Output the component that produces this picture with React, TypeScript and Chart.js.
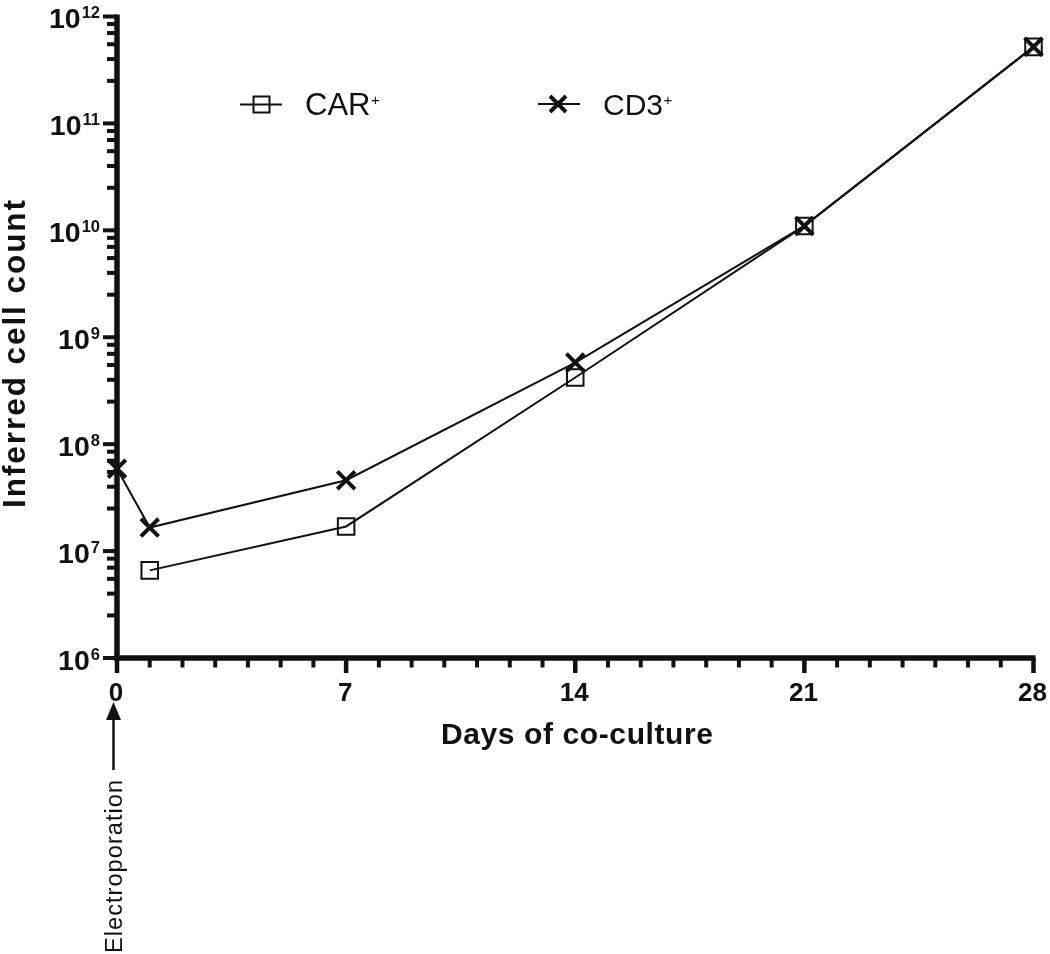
import React, { useEffect, useRef } from "react";
import { Chart, registerables } from "chart.js";

Chart.register(...registerables);

// ---- data ----
const days = [0, 1, 7, 14, 21, 28];
const carPlus: (number | null)[] = [null, 6.6e6, 1.7e7, 4.2e8, 1.1e10, 5.2e11];
const cd3Plus: (number | null)[] = [5.9e7, 1.66e7, 4.6e7, 5.8e8, 1.1e10, 5.2e11];
const seriesNames = ["CAR", "CD3"];

// ---- axis ticks ----
const xMajorTicks = [0, 7, 14, 21, 28];
const xMinorTicks = [1, 2, 3, 4, 5, 6, 8, 9, 10, 11, 12, 13, 15, 16, 17, 18, 19, 20, 22, 23, 24, 25, 26, 27];
const yExponents = [6, 7, 8, 9, 10, 11, 12];
const yMinorMultipliers = [2.5, 4, 5.5, 7, 8.5];
const xTitle = "Days of co-culture";
const yTitle = "Inferred cell count";
const annotationText = "Electroporation";

const FONT = '"Liberation Sans", Arial, Helvetica, sans-serif';
const INK = "#111111";

function toPoints(values: (number | null)[]) {
  const pts: { x: number; y: number }[] = [];
  values.forEach((v, i) => {
    if (v !== null) pts.push({ x: days[i], y: v });
  });
  return pts;
}

function fitText(ctx: CanvasRenderingContext2D, text: string, x: number, y: number, target: number) {
  (ctx as any).letterSpacing = "0px";
  const w = ctx.measureText(text).width;
  const sp = text.length > 1 ? (target - w) / (text.length - 1) : 0;
  (ctx as any).letterSpacing = sp + "px";
  ctx.textAlign = "left";
  ctx.fillText(text, x, y);
  (ctx as any).letterSpacing = "0px";
}

const axesPlugin = {
  id: "customAxes",
  beforeDatasetsDraw(chart: any) {
    const ctx: CanvasRenderingContext2D = chart.ctx;
    const xs = chart.scales.x;
    const ys = chart.scales.y;
    const x0 = xs.getPixelForValue(0);
    const xr = xs.getPixelForValue(28);
    const y0 = ys.getPixelForValue(1e6);
    const yt = ys.getPixelForValue(1e12);
    ctx.save();
    ctx.fillStyle = INK;
    // axis lines
    ctx.fillRect(x0 - 2.75, yt - 2, 5.5, y0 + 2.75 - (yt - 2));
    ctx.fillRect(x0 - 2.75, y0 - 2.75, xr + 2 - (x0 - 2.75), 5.5);
    // y ticks
    yExponents.forEach((e) => {
      const py = ys.getPixelForValue(Math.pow(10, e));
      ctx.fillRect(x0 - 14, py - 2, 14, 4);
      if (e < 12) {
        yMinorMultipliers.forEach((m) => {
          const pm = ys.getPixelForValue(m * Math.pow(10, e));
          ctx.fillRect(x0 - 10, pm - 2, 10, 4);
        });
      }
    });
    // x ticks
    xMajorTicks.forEach((d) => {
      const px = xs.getPixelForValue(d);
      ctx.fillRect(px - 2.25, y0, 4.5, 15);
    });
    xMinorTicks.forEach((d) => {
      const px = xs.getPixelForValue(d);
      ctx.fillRect(px - 2, y0, 4, 9.5);
    });

    // y tick labels 10^n
    ctx.textBaseline = "alphabetic";
    yExponents.forEach((e) => {
      const py = ys.getPixelForValue(Math.pow(10, e));
      ctx.font = `bold 16.5px ${FONT}`;
      const sup = String(e);
      const sw = ctx.measureText(sup).width;
      const right = x0 - 17;
      ctx.textAlign = "left";
      ctx.fillText(sup, right - sw, py + 1.5);
      ctx.font = `bold 28.5px ${FONT}`;
      ctx.textAlign = "right";
      ctx.fillText("10", right - sw - 1, py + 11.5);
    });

    // x tick labels
    ctx.font = `bold 26px ${FONT}`;
    ctx.textAlign = "center";
    xMajorTicks.forEach((d) => {
      const px = xs.getPixelForValue(d);
      ctx.fillText(String(d), px - 1, y0 + 43);
    });

    // axis titles
    ctx.font = `bold 30px ${FONT}`;
    fitText(ctx, xTitle, 441, 744, 272);

    ctx.save();
    ctx.translate(25, 508);
    ctx.rotate(-Math.PI / 2);
    ctx.font = `bold 31.5px ${FONT}`;
    fitText(ctx, yTitle, 0, 0, 308);
    ctx.restore();

    // electroporation arrow
    const ax = x0 - 3.5;
    ctx.strokeStyle = INK;
    ctx.lineWidth = 2.5;
    ctx.beginPath();
    ctx.moveTo(ax, 718);
    ctx.lineTo(ax, 770);
    ctx.stroke();
    ctx.beginPath();
    ctx.moveTo(ax, 702);
    ctx.lineTo(ax - 7.5, 720);
    ctx.lineTo(ax + 7.5, 720);
    ctx.closePath();
    ctx.fill();
    ctx.save();
    ctx.translate(ax + 8.5, 953);
    ctx.rotate(-Math.PI / 2);
    ctx.font = `23.5px ${FONT}`;
    fitText(ctx, annotationText, 0, 0, 173);
    ctx.restore();

    ctx.restore();
  },
  afterDatasetsDraw(chart: any) {
    const ctx: CanvasRenderingContext2D = chart.ctx;
    ctx.save();
    ctx.strokeStyle = INK;
    ctx.fillStyle = INK;
    // legend: CAR+
    ctx.lineWidth = 2;
    ctx.beginPath();
    ctx.moveTo(240, 104.5);
    ctx.lineTo(282, 104.5);
    ctx.stroke();
    ctx.strokeRect(253.5, 96.5, 16, 16);
    ctx.font = `31px ${FONT}`;
    ctx.textAlign = "left";
    ctx.textBaseline = "alphabetic";
    ctx.fillText(seriesNames[0], 305, 115);
    let w = ctx.measureText(seriesNames[0]).width;
    ctx.font = `15px ${FONT}`;
    ctx.fillText("+", 305 + w + 0.5, 104.5);

    // legend: CD3+
    ctx.lineWidth = 2;
    ctx.beginPath();
    ctx.moveTo(538, 104);
    ctx.lineTo(580, 104);
    ctx.stroke();
    ctx.lineWidth = 4;
    ctx.beginPath();
    ctx.moveTo(558 - 8, 104 - 8);
    ctx.lineTo(558 + 8, 104 + 8);
    ctx.moveTo(558 - 8, 104 + 8);
    ctx.lineTo(558 + 8, 104 - 8);
    ctx.stroke();
    ctx.font = `30px ${FONT}`;
    ctx.fillText(seriesNames[1], 603, 115);
    w = ctx.measureText(seriesNames[1]).width;
    ctx.font = `15px ${FONT}`;
    ctx.fillText("+", 603 + w + 0.5, 104.5);
    ctx.restore();
  },
};

export default function App() {
  const ref = useRef<HTMLCanvasElement>(null);
  useEffect(() => {
    if (!ref.current) return;
    const chart = new Chart(ref.current, {
      type: "line",
      data: {
        datasets: [
          {
            label: "CAR+",
            data: toPoints(carPlus),
            borderColor: INK,
            borderWidth: 2,
            pointStyle: "rect",
            pointRadius: 11.7,
            pointBorderWidth: 2,
            pointBorderColor: INK,
            pointBackgroundColor: "rgba(0,0,0,0)",
            tension: 0,
            clip: false as any,
          },
          {
            label: "CD3+",
            data: toPoints(cd3Plus),
            borderColor: INK,
            borderWidth: 2,
            pointStyle: "crossRot",
            pointRadius: 12.5,
            pointBorderWidth: 4,
            pointBorderColor: INK,
            pointBackgroundColor: INK,
            tension: 0,
            clip: false as any,
          },
        ],
      },
      options: {
        responsive: false,
        animation: false,
        devicePixelRatio: 1,
        layout: { padding: { left: 117, right: 14, top: 13, bottom: 296 } },
        plugins: { legend: { display: false }, tooltip: { enabled: false } },
        events: [],
        scales: {
          x: { type: "linear", min: 0, max: 28, display: false },
          y: { type: "logarithmic", min: 1e6, max: 1e12, display: false },
        },
      },
      plugins: [axesPlugin],
    });
    return () => chart.destroy();
  }, []);
  return (
    <div style={{ position: "absolute", left: 0, top: 0, width: 1050, height: 954, background: "#ffffff" }}>
      <canvas ref={ref} width={1050} height={954} style={{ display: "block" }} />
    </div>
  );
}
